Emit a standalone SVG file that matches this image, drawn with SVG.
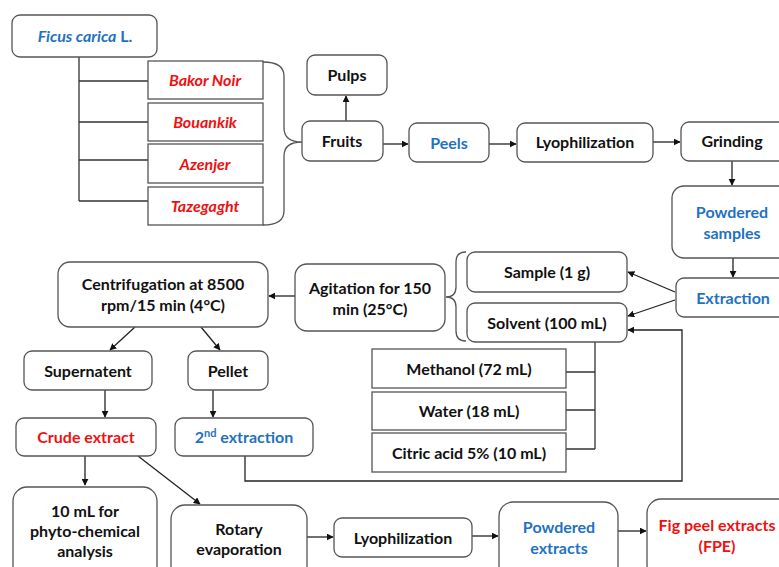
<svg xmlns="http://www.w3.org/2000/svg" width="779" height="567" viewBox="0 0 779 567">
<style>
  .box{fill:#fff;stroke:#555;stroke-width:1.3}
  .sq{fill:#fff;stroke:#555;stroke-width:1.3}
  .t{font-family:Lato,"Open Sans","Liberation Sans",sans-serif;font-weight:bold;font-size:16px;text-anchor:middle;fill:#111}
  .b{fill:#1f72c0}
  .r{fill:#f01010}
  .i{font-style:italic}
  .ln{fill:none;stroke:#333;stroke-width:1.3}
  .ar{fill:none;stroke:#222;stroke-width:1.3;marker-end:url(#ah)}
  .br{fill:none;stroke:#555;stroke-width:1.3}
</style>
<defs>
  <marker id="ah" viewBox="0 0 10 10" refX="9" refY="5" markerWidth="7" markerHeight="7" markerUnits="userSpaceOnUse" orient="auto">
    <path d="M0,0 L10,5 L0,10 z" fill="#111"/>
  </marker>
</defs>
<rect width="779" height="567" fill="#fff"/>

<g id="connectors">
  <path class="ln" d="M79,57 V201 M79,81 H148 M79,122 H148 M79,160 H148 M79,201 H148"/>
  <path class="br" d="M263,62 Q284,62 284,76 V128 Q284,142 302,142 Q284,142 284,156 V211 Q284,225 263,225"/>
  <path class="br" d="M466,252 Q456,252 456,262 V287 Q456,297 446,297 Q456,297 456,307 V331 Q456,341 466,341"/>
  <path class="ar" d="M346,121 V96"/>
  <path class="ar" d="M383,144 H408"/>
  <path class="ar" d="M489,144 H516"/>
  <path class="ar" d="M653,142 H680"/>
  <path class="ar" d="M732,161 V185"/>
  <path class="ar" d="M733,258 V277"/>
  <path class="ar" d="M675,292 L628,272"/>
  <path class="ar" d="M675,300 L628,316"/>
  <path class="ar" d="M245,456 V481 H682 V330 H628"/>
  <path class="ln" d="M595,342 V449 M566,372 H595 M566,410 H595 M566,449 H595"/>
  <path class="ar" d="M295,296 H269"/>
  <path class="ar" d="M135,327 L110,350"/>
  <path class="ar" d="M201,327 L220,350"/>
  <path class="ar" d="M105,390 V417"/>
  <path class="ar" d="M213,390 V417"/>
  <path class="ar" d="M85,456 V485"/>
  <path class="ar" d="M138,456 L200,504"/>
  <path class="ar" d="M307,537 H333"/>
  <path class="ar" d="M472,536 H498"/>
  <path class="ar" d="M618,531 H646"/>
</g>

<g id="ficus"><rect class="box" x="12" y="15" width="145" height="42" rx="8"/>
  <text class="t b" x="85" y="42"><tspan class="i">Ficus carica</tspan> L.</text></g>
<g id="bakor"><rect class="sq" x="148" y="61" width="115" height="38"/><text class="t r i" x="205" y="86">Bakor Noir</text></g>
<g id="bouankik"><rect class="sq" x="148" y="103" width="115" height="38"/><text class="t r i" x="205" y="128">Bouankik</text></g>
<g id="azenjer"><rect class="sq" x="148" y="144" width="115" height="39"/><text class="t r i" x="205" y="170">Azenjer</text></g>
<g id="tazegaght"><rect class="sq" x="148" y="187" width="115" height="38"/><text class="t r i" x="205" y="212">Tazegaght</text></g>

<g id="pulps"><rect class="box" x="307" y="55" width="80" height="40" rx="8"/><text class="t" x="347" y="81">Pulps</text></g>
<g id="fruits"><rect class="box" x="302" y="121" width="81" height="40" rx="8"/><text class="t" x="342" y="147">Fruits</text></g>
<g id="peels"><rect class="box" x="409" y="123" width="80" height="39" rx="8"/><text class="t b" x="449" y="149">Peels</text></g>
<g id="lyo1"><rect class="box" x="517" y="123" width="136" height="39" rx="8"/><text class="t" x="585" y="148">Lyophilization</text></g>
<g id="grinding"><rect class="box" x="681" y="122" width="110" height="39" rx="8"/><text class="t" x="732" y="147">Grinding</text></g>
<g id="powsamples"><rect class="box" x="672" y="186" width="120" height="72" rx="12"/>
  <text class="t b" x="732" y="218">Powdered</text><text class="t b" x="732" y="239">samples</text></g>
<g id="extraction"><rect class="box" x="676" y="278" width="115" height="39" rx="8"/><text class="t b" x="733" y="304">Extraction</text></g>
<g id="sample"><rect class="box" x="467" y="252" width="160" height="40" rx="8"/><text class="t" x="547" y="278">Sample (1 g)</text></g>
<g id="solvent"><rect class="box" x="467" y="303" width="160" height="39" rx="8"/><text class="t" x="547" y="329">Solvent (100 mL)</text></g>
<g id="methanol"><rect class="sq" x="372" y="349" width="194" height="39"/><text class="t" x="469" y="375">Methanol (72 mL)</text></g>
<g id="water"><rect class="sq" x="372" y="392" width="194" height="38"/><text class="t" x="469" y="417">Water (18 mL)</text></g>
<g id="citric"><rect class="sq" x="372" y="433" width="194" height="39"/><text class="t" x="469" y="459">Citric acid 5% (10 mL)</text></g>
<g id="agitation"><rect class="box" x="295" y="264" width="150" height="67" rx="12"/>
  <text class="t" x="370" y="294">Agitation for 150</text><text class="t" x="370" y="315">min (25°C)</text></g>
<g id="centrifugation"><rect class="box" x="58" y="262" width="210" height="65" rx="12"/>
  <text class="t" x="163" y="290">Centrifugation at 8500</text><text class="t" x="163" y="311">rpm/15 min (4°C)</text></g>
<g id="supernatent"><rect class="box" x="24" y="351" width="128" height="39" rx="8"/><text class="t" x="88" y="377">Supernatent</text></g>
<g id="pellet"><rect class="box" x="188" y="351" width="80" height="39" rx="8"/><text class="t" x="228" y="377">Pellet</text></g>
<g id="crude"><rect class="box" x="16" y="418" width="140" height="38" rx="8"/><text class="t r" x="86" y="443">Crude extract</text></g>
<g id="second"><rect class="box" x="175" y="418" width="138" height="38" rx="8"/>
  <text class="t b" x="244" y="443">2<tspan font-size="11" dy="-6">nd</tspan><tspan dy="6"> extraction</tspan></text></g>
<g id="tenml"><rect class="box" x="13" y="487" width="144" height="95" rx="14"/>
  <text class="t" x="85" y="517">10 mL for</text><text class="t" x="85" y="537">phyto-chemical</text><text class="t" x="85" y="557">analysis</text></g>
<g id="rotary"><rect class="box" x="171" y="505" width="136" height="80" rx="14"/>
  <text class="t" x="239" y="535">Rotary</text><text class="t" x="239" y="555">evaporation</text></g>
<g id="lyo2"><rect class="box" x="334" y="518" width="138" height="39" rx="8"/><text class="t" x="403" y="544">Lyophilization</text></g>
<g id="powextracts"><rect class="box" x="499" y="502" width="119" height="80" rx="14"/>
  <text class="t b" x="559" y="533">Powdered</text><text class="t b" x="559" y="554">extracts</text></g>
<g id="fpe"><rect class="box" x="647" y="499" width="150" height="80" rx="14"/>
  <text class="t r" x="717" y="531">Fig peel extracts</text><text class="t r" x="717" y="552">(FPE)</text></g>
</svg>
